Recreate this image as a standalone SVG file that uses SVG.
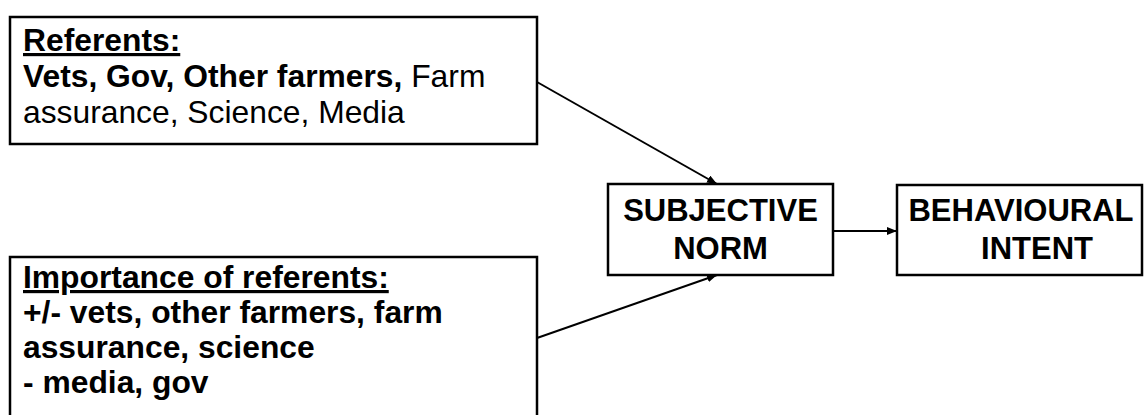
<svg xmlns="http://www.w3.org/2000/svg" width="1145" height="415" viewBox="0 0 1145 415">
  <style>
    .box { fill: #ffffff; stroke: #000000; stroke-width: 2.5; }
    .t { font-family: "Liberation Sans", Arial, sans-serif; font-size: 31px; fill: #000000; }
    .src { font-size: 31.8px; }
    .b { font-weight: bold; }
    .u { text-decoration: underline; }
    .link { stroke: #000000; stroke-width: 2; fill: none; marker-end: url(#head); }
  </style>
  <defs>
    <marker id="head" viewBox="0 0 10 8" refX="10" refY="4" markerWidth="10" markerHeight="8" markerUnits="userSpaceOnUse" orient="auto">
      <path d="M0,0 L10,4 L0,8 Z" fill="#000000"/>
    </marker>
  </defs>
  <rect width="1145" height="415" fill="#ffffff"/>

  <g id="referents">
    <rect class="box" x="10" y="17" width="527" height="127"/>
    <text class="t src b u" x="23" y="51">Referents:</text>
    <text class="t src" x="23" y="87"><tspan class="b">Vets, Gov, Other farmers,</tspan> Farm</text>
    <text class="t src" x="23" y="123">assurance, Science, Media</text>
  </g>

  <g id="importance">
    <rect class="box" x="10" y="257" width="527" height="175"/>
    <text class="t src b u" x="23" y="288">Importance of referents:</text>
    <text class="t src b" x="23" y="323">+/- vets, other farmers, farm</text>
    <text class="t src b" x="23" y="358">assurance, science</text>
    <text class="t src b" x="23" y="393">- media, gov</text>
  </g>

  <g id="subjective-norm">
    <rect class="box" x="608" y="184" width="225" height="91"/>
    <text class="t b" x="720.5" y="221" text-anchor="middle">SUBJECTIVE</text>
    <text class="t b" x="720.5" y="259" text-anchor="middle">NORM</text>
  </g>

  <g id="behavioural-intent">
    <rect class="box" x="897" y="185" width="245" height="90"/>
    <text class="t b" x="1021" y="221" text-anchor="middle">BEHAVIOURAL</text>
    <text class="t b" x="1037" y="259" text-anchor="middle">INTENT</text>
  </g>

  <g id="connectors">
    <line class="link" x1="537" y1="82" x2="717" y2="184"/>
    <line class="link" x1="537" y1="338" x2="717" y2="275"/>
    <line class="link" x1="833" y1="231" x2="897" y2="231"/>
  </g>
</svg>
